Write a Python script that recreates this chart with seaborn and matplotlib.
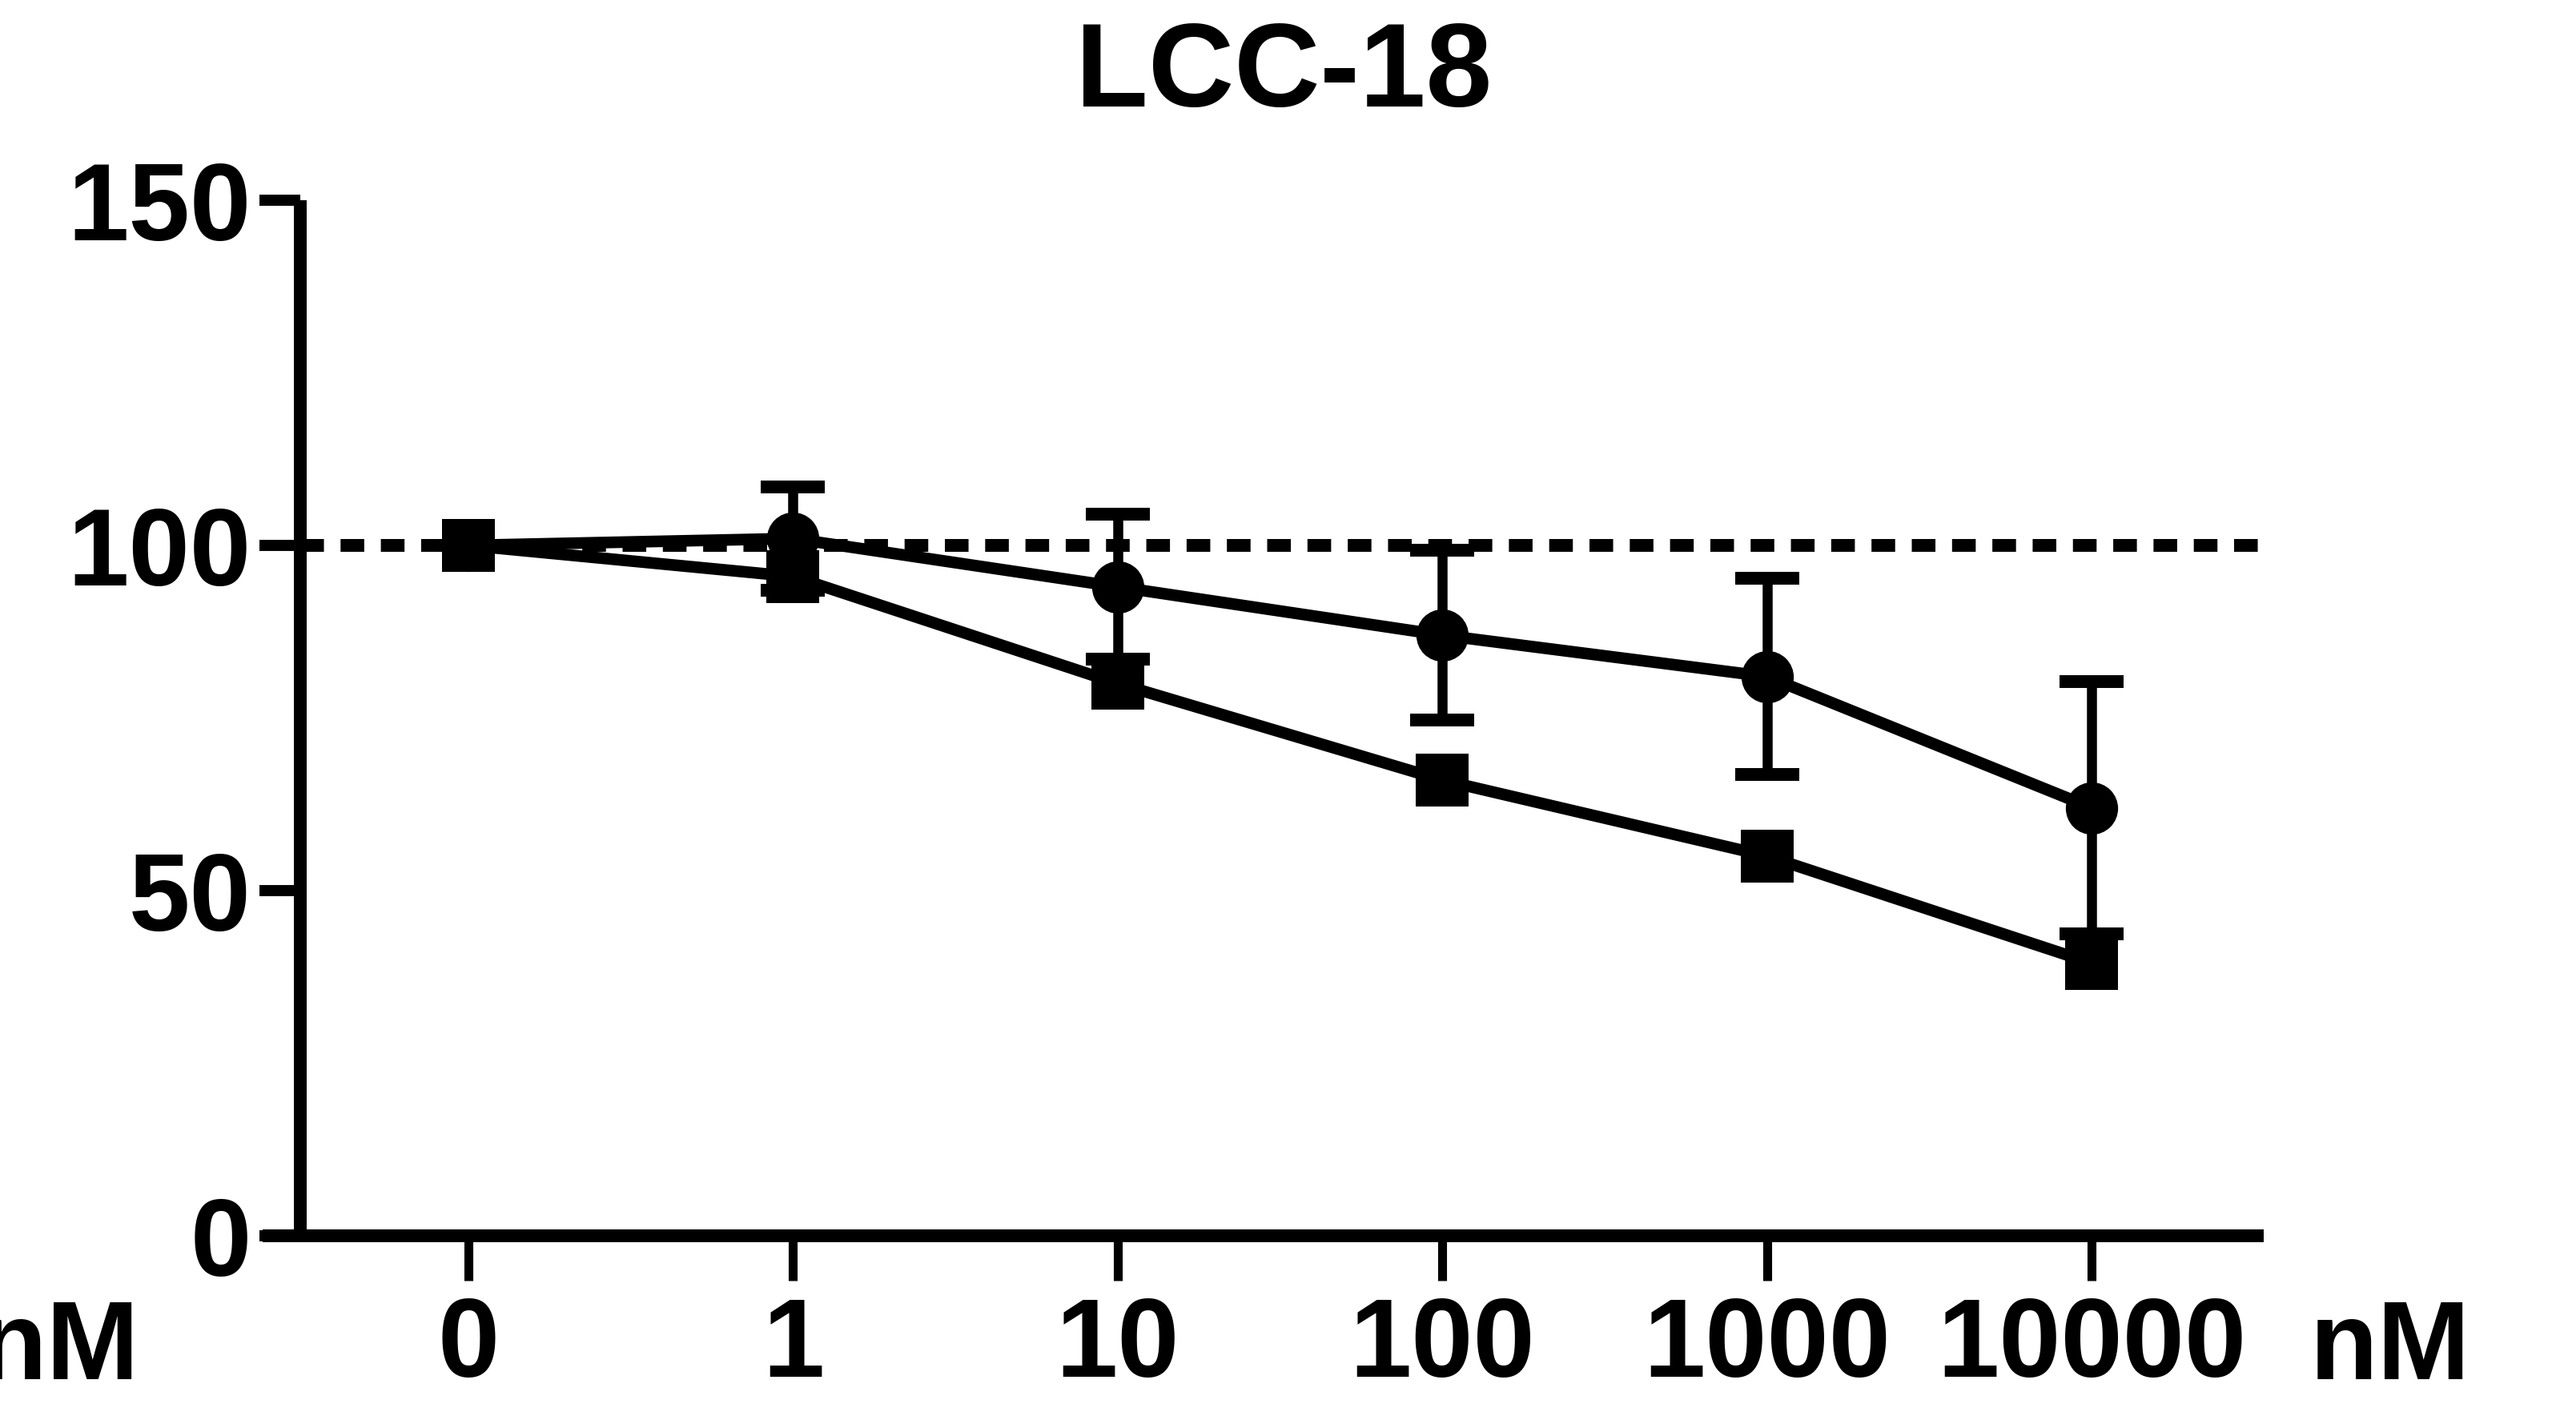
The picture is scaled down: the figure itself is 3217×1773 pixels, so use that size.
import matplotlib
matplotlib.use("Agg")
import matplotlib.pyplot as plt
import seaborn as sns
import pandas as pd

# ---- data ----
concentrations = ["0", "1", "10", "100", "1000", "10000"]
circle_mean = [100, 101, 94, 87, 81, 62]
circle_err = [0, 7.5, 10.5, 12.3, 14.2, 18.3]
square_mean = [100, 95.5, 80, 66, 55, 39.5]
title_text = "LCC-18"
unit_text = "nM"
y_ticks = [0, 50, 100, 150]
ref_value = 100

sns.set_theme(style="white")
plt.rcParams["font.family"] = ["Liberation Sans", "DejaVu Sans"]
plt.rcParams["font.weight"] = "bold"
plt.rcParams["text.color"] = "black"

W, H = 3217, 1773
fig = plt.figure(figsize=(W / 100, H / 100), dpi=100)
ax = fig.add_axes([328 / W, (H - 1543) / H, (2827 - 328) / W, (1543 - 250) / H])

pos = list(range(len(concentrations)))
df = pd.DataFrame({
    "pos": pos * 2,
    "value": circle_mean + square_mean,
    "series": ["circle"] * len(pos) + ["square"] * len(pos),
})

# reference dotted line
y_axis_x = -0.518
x_left, x_right = -0.634, 5.53
ax.hlines(ref_value, y_axis_x, x_right, colors="black", linewidth=11.5,
          linestyles=(0, (1.85, 1.3)), zorder=1)

# error bars (circles)
ax.errorbar(pos, circle_mean, yerr=circle_err, fmt="none", ecolor="black",
            elinewidth=9, capsize=29, capthick=11.5, zorder=2)

sns.lineplot(data=df, x="pos", y="value", style="series",
             markers={"circle": "o", "square": "s"}, dashes=False,
             color="black", linewidth=10.5, markersize=47, markeredgewidth=0,
             legend=False, ax=ax, zorder=3)

ax.set_xlim(x_left, x_right)
ax.set_ylim(0, 150)
ax.set_xticks(pos)
ax.set_xticklabels(concentrations)
ax.set_yticks(y_ticks)
ax.set_xlabel("")
ax.set_ylabel("")

for s in ["top", "right"]:
    ax.spines[s].set_visible(False)
ax.spines["left"].set_position(("data", y_axis_x))
ax.spines["left"].set_linewidth(11.5)
ax.spines["bottom"].set_linewidth(11.5)
for s in ["left", "bottom"]:
    ax.spines[s].set_color("black")
    ax.spines[s].set_capstyle("butt")

ax.tick_params(axis="y", direction="out", length=37, width=10, pad=7,
               labelsize=99, colors="black")
ax.tick_params(axis="x", direction="out", length=40, width=8, pad=14,
               labelsize=100, colors="black")
ax.tick_params(left=True, bottom=True)
for lab in ax.get_xticklabels() + ax.get_yticklabels():
    lab.set_fontweight("bold")

fig.text(1603 / W, 1 - 94 / H, title_text, ha="center", va="center",
         fontsize=107, fontweight="bold", color="black")
fig.text(2985 / W, 1 - 1686 / H, unit_text, ha="center", va="center",
         fontsize=100, fontweight="bold", color="black")
fig.text(74 / W, 1 - 1686 / H, unit_text, ha="center", va="center",
         fontsize=100, fontweight="bold", color="black")

for line in ax.lines:
    line.set_clip_on(False)

fig.savefig("out.png", dpi=100, facecolor="white")
